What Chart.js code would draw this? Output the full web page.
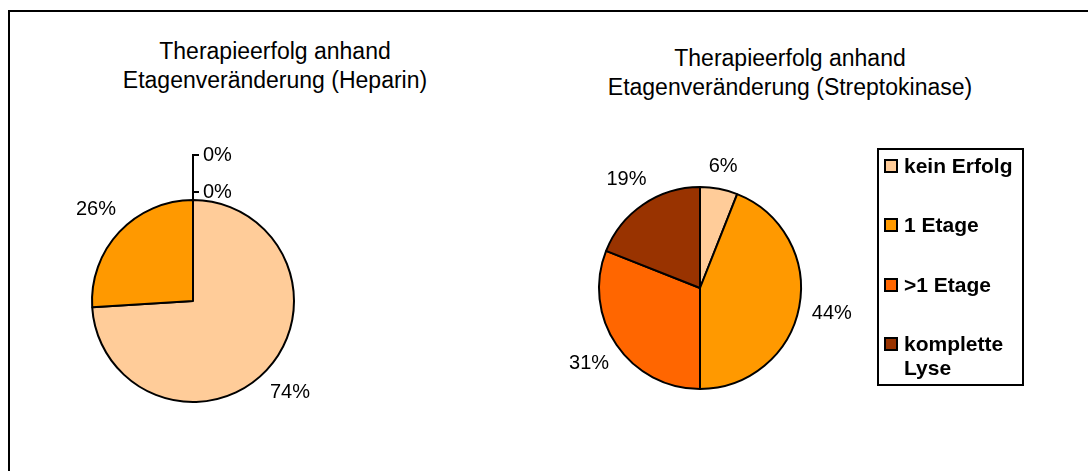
<!DOCTYPE html>
<html>
<head>
<meta charset="utf-8">
<script src="https://cdn.jsdelivr.net/npm/chart.js@4"></script>
<style>
  body { margin: 0; background: #fff; width: 1088px; height: 471px; overflow: hidden; position: relative;
         font-family: "Liberation Sans", Arial, sans-serif; color: #000; }
  .frame { position: absolute; left: 8px; top: 10px; width: 1200px; height: 600px; border: 2px solid #000; }
  canvas.pie { position: absolute; left: 0; top: 0; }
  .title { position: absolute; width: 500px; text-align: center; font-size: 23px; line-height: 29px; }
  #legend { position: absolute; left: 877px; top: 148px; width: 143px; height: 234px; border: 2px solid #000; }
  .item { position: absolute; left: 5px; padding-left: 20px; font-weight: bold; font-size: 21px; line-height: 24px; }
  .swatch { position: absolute; left: 0; top: 5px; width: 10px; height: 10px; border: 2px solid #000; }
</style>
</head>
<body>
<div class="frame"></div>
<div class="title" style="left:25px; top:37px;">Therapieerfolg anhand<br>Etagenveränderung (Heparin)</div>
<div class="title" style="left:540px; top:44px;">Therapieerfolg anhand<br>Etagenveränderung (Streptokinase)</div>
<canvas class="pie" id="heparinChart" width="1088" height="471"></canvas>
<canvas class="pie" id="streptoChart" width="1088" height="471"></canvas>
<div id="legend"></div>

<script>
// categories shared by both pies
const categories = ['kein Erfolg', '1 Etage', '>1 Etage', 'komplette Lyse'];
const sliceColors = ['#FFCC99', '#FF9900', '#FF6600', '#993300'];

// percentages
const heparinValues = [74, 26, 0, 0];
const streptoValues = [6, 44, 31, 19];

// draws the percent labels outside each slice
const pieLabels = {
    id: 'pieLabels',
    afterDatasetsDraw(chart) {
        const ctx = chart.ctx;
        const values = chart.data.datasets[0].data;
        const arcs = chart.getDatasetMeta(0).data;
        ctx.save();
        ctx.font = '20px "Liberation Sans", Arial, sans-serif';
        ctx.fillStyle = '#000';
        ctx.strokeStyle = '#000';
        ctx.lineWidth = 2;
        ctx.textBaseline = 'middle';
        let zeroCount = 0;
        arcs.forEach((arc, i) => {
            const p = arc.getProps(['x', 'y', 'startAngle', 'endAngle', 'outerRadius'], true);
            const text = values[i] + '%';
            if (values[i] === 0) {
                // empty slices get stacked labels with a leader line above the pie
                const top = p.y - p.outerRadius;
                const ly = top - 8 - zeroCount * 37;
                ctx.beginPath();
                ctx.moveTo(p.x, top);
                ctx.lineTo(p.x, ly);
                ctx.lineTo(p.x + 6, ly);
                ctx.stroke();
                ctx.textAlign = 'left';
                ctx.fillText(text, p.x + 10, ly);
                zeroCount++;
                return;
            }
            const mid = (p.startAngle + p.endAngle) / 2;
            const w = ctx.measureText(text).width;
            const c = Math.cos(mid), s = Math.sin(mid);
            const d = p.outerRadius + 12 + w / 2 * Math.abs(c) + 8 * Math.abs(s);
            ctx.textAlign = 'center';
            ctx.fillText(text, p.x + d * c, p.y + d * s);
        });
        ctx.restore();
    }
};

function makePie(id, values, padding) {
    const ctx = document.getElementById(id).getContext('2d');
    return new Chart(ctx, {
        type: 'pie',
        data: {
            labels: categories,
            datasets: [{
                data: values,
                backgroundColor: sliceColors,
                borderColor: '#000',
                borderWidth: 2,
                hoverOffset: 0
            }]
        },
        options: {
            responsive: false,
            animation: false,
            events: [],
            layout: { padding: padding },
            plugins: {
                legend: { display: false },
                tooltip: { enabled: false },
                title: { display: false }
            }
        },
        plugins: [pieLabels]
    });
}

makePie('heparinChart', heparinValues, { left: 91, right: 793, top: 199, bottom: 68 });
makePie('streptoChart', streptoValues, { left: 598, right: 286, top: 186, bottom: 81 });

// legend built from the same categories and colours
const legend = document.getElementById('legend');
categories.forEach((name, i) => {
    const item = document.createElement('div');
    item.className = 'item';
    item.style.top = (3.7 + i * 59.5) + 'px';
    const sw = document.createElement('span');
    sw.className = 'swatch';
    sw.style.background = sliceColors[i];
    item.appendChild(sw);
    const parts = name === 'komplette Lyse' ? ['komplette', 'Lyse'] : [name];
    parts.forEach((t, k) => {
        if (k > 0) item.appendChild(document.createElement('br'));
        item.appendChild(document.createTextNode(t));
    });
    legend.appendChild(item);
});
</script>
</body>
</html>
